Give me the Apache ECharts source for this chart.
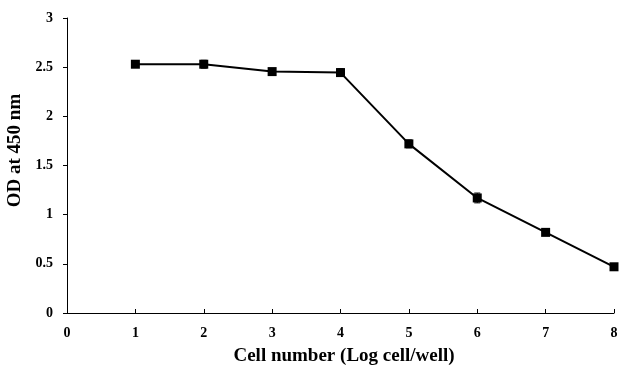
<!DOCTYPE html>
<html>
<head>
<meta charset="utf-8">
<script src="https://cdn.jsdelivr.net/npm/echarts@6/dist/echarts.min.js"></script>
<style>
  html, body { margin: 0; padding: 0; background: #fff; }
  #chart { width: 628px; height: 367px; }
</style>
</head>
<body>
<div id="chart"></div>
<script>
// 数据
var cellLog = [1, 2, 3, 4, 5, 6, 7, 8];
var odValues = [2.53, 2.53, 2.455, 2.445, 1.72, 1.17, 0.82, 0.47];
var odErrors = [0.01, 0.04, 0.01, 0.04, 0.04, 0.05, 0.01, 0.01];

var font = '"Liberation Serif", "Times New Roman", serif';
var chart = echarts.init(document.getElementById('chart'), null, { renderer: 'canvas' });

var lineData = cellLog.map(function (x, i) { return [x, odValues[i]]; });
var errData = cellLog.map(function (x, i) { return [x, odValues[i] - odErrors[i], odValues[i] + odErrors[i]]; });

var option = {
  animation: false,
  grid: { left: 67, right: 14, top: 18, bottom: 54, outerBoundsMode: 'none' },
  xAxis: {
    type: 'value',
    min: 0,
    max: 8,
    interval: 1,
    name: 'Cell number (Log cell/well)',
    nameLocation: 'middle',
    nameGap: 34,
    nameTextStyle: { fontFamily: font, fontWeight: 'bold', fontSize: 19, color: '#000', padding: [0, 0, 0, 7] },
    axisLine: { lineStyle: { color: '#000', width: 1 } },
    axisTick: { inside: true, length: 4, lineStyle: { color: '#000' } },
    axisLabel: { fontFamily: font, fontWeight: 'bold', fontSize: 14, color: '#000', margin: 13 },
    splitLine: { show: false }
  },
  yAxis: {
    type: 'value',
    min: 0,
    max: 3,
    interval: 0.5,
    name: 'OD at 450 nm',
    nameLocation: 'middle',
    nameGap: 35,
    nameTextStyle: { fontFamily: font, fontWeight: 'bold', fontSize: 19, color: '#000', padding: [0, 0, 0, 30] },
    axisLine: { show: true, lineStyle: { color: '#000', width: 1 } },
    axisTick: { show: true, length: 4, lineStyle: { color: '#000' } },
    axisLabel: { fontFamily: font, fontWeight: 'bold', fontSize: 14, color: '#000', margin: 14 },
    splitLine: { show: false }
  },
  series: [{
    type: 'line',
    data: lineData,
    symbol: 'rect',
    symbolSize: 9,
    lineStyle: { color: '#000', width: 2 },
    itemStyle: { color: '#000' },
    z: 3
  }, {
    type: 'custom',
    data: errData,
    z: 4,
    renderItem: function (params, api) {
      var x = api.value(0);
      var lo = api.coord([x, api.value(1)]);
      var hi = api.coord([x, api.value(2)]);
      var w = 3;
      return {
        type: 'group',
        children: [
          { type: 'line', shape: { x1: lo[0], y1: lo[1], x2: hi[0], y2: hi[1] }, style: { stroke: '#000', lineWidth: 1 } },
          { type: 'line', shape: { x1: lo[0] - w, y1: lo[1], x2: lo[0] + w, y2: lo[1] }, style: { stroke: '#000', lineWidth: 1 } },
          { type: 'line', shape: { x1: hi[0] - w, y1: hi[1], x2: hi[0] + w, y2: hi[1] }, style: { stroke: '#000', lineWidth: 1 } }
        ]
      };
    }
  }]
};
chart.setOption(option);
</script>
</body>
</html>
